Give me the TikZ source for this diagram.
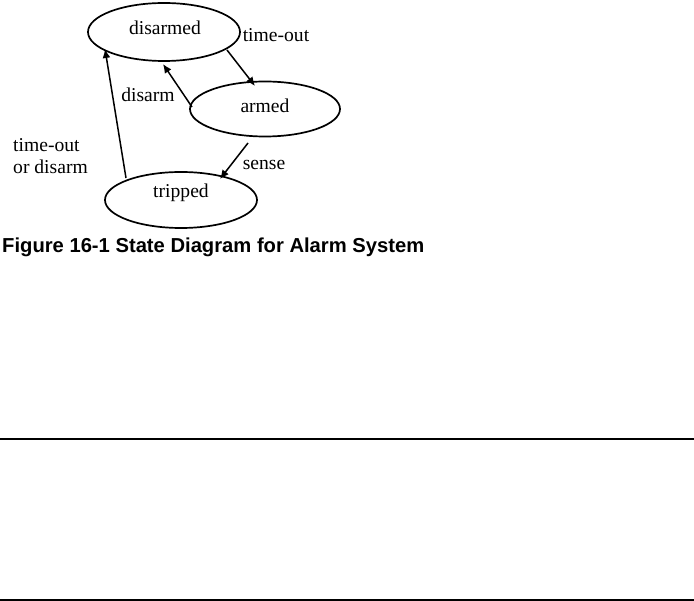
\documentclass[tikz,border=0pt]{standalone}
\usepackage{fontspec}
\setmainfont{Liberation Serif}
\newfontfamily\capfont{Liberation Sans}
\usetikzlibrary{shapes.geometric,arrows.meta}
\begin{document}
\begin{tikzpicture}[x=1pt,y=-1pt,
  state/.style={draw,ellipse,line width=1.7pt,minimum width=152pt,minimum height=58pt,inner sep=0pt},
  lbl/.style={font=\fontsize{19.6}{22}\selectfont,inner sep=0pt},
  conn/.style={line width=1.5pt,-{Latex[length=9pt,width=8pt]}},
  rule/.style={line width=2.4pt}]
\useasboundingbox (0,0) rectangle (694,601);
\node[state] (dis) at (164,32) {};
\node[lbl] at (165,28) {disarmed};
\node[state,minimum width=150pt,minimum height=55pt] (arm) at (265,109) {};
\node[lbl] at (265,106) {armed};
\node[state,minimum height=56pt] (trip) at (181,200) {};
\node[lbl] at (181,193) {tripped};
\coordinate (d1) at (227,50);
\coordinate (a1) at (255,86);
\coordinate (a2) at (192,107);
\coordinate (d2) at (163,64);
\coordinate (a3) at (248,143);
\coordinate (t1) at (220,179);
\coordinate (t2) at (126,178);
\coordinate (d3) at (105,49);
\draw[conn] (d1) -- (a1);
\draw[conn] (a2) -- (d2);
\draw[conn] (a3) -- (t1);
\draw[conn] (t2) -- (d3);
\node[lbl] (lto) at (276,35) {time-out};
\node[lbl] (ldis) at (148,95) {disarm};
\node[lbl] (lsen) at (264,165) {sense};
\node[lbl,align=left,anchor=west] (ltd) at (13,156) {time-out\\or disarm};
\node[font=\capfont\bfseries\fontsize{20.2}{22}\selectfont,anchor=west,inner sep=0pt] (cap) at (2,247) {Figure 16-1 State Diagram for Alarm System};
\coordinate (r1a) at (0,439);
\coordinate (r1b) at (694,439);
\coordinate (r2a) at (0,600);
\coordinate (r2b) at (694,600);
\draw[rule] (r1a) -- (r1b);
\draw[rule] (r2a) -- (r2b);
\end{tikzpicture}
\end{document}
